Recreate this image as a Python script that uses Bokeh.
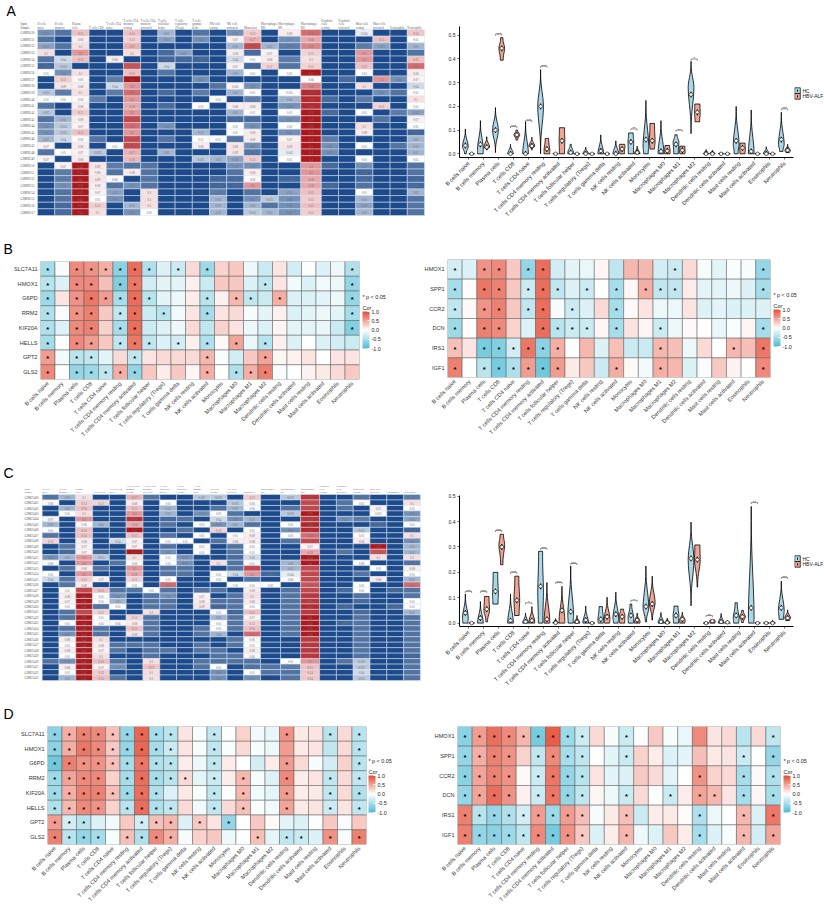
from math import pi
from bokeh.plotting import figure
from bokeh.layouts import column, row
from bokeh.models import (ColumnDataSource, FactorRange, Range1d, ColorBar, LinearColorMapper,
                          FixedTicker, PrintfTickFormatter)
from bokeh.core.properties import value
from bokeh.transform import linear_cmap
from bokeh.embed import file_html
from bokeh.resources import INLINE

CELLS = ["B cells naive", "B cells memory", "Plasma cells", "T cells CD8", "T cells CD4 naive",
         "T cells CD4 memory resting", "T cells CD4 memory activated", "T cells follicular helper",
         "T cells regulatory (Tregs)", "T cells gamma delta", "NK cells resting", "NK cells activated",
         "Monocytes", "Macrophages M0", "Macrophages M1", "Macrophages M2", "Dendritic cells resting",
         "Dendritic cells activated", "Mast cells resting", "Mast cells activated", "Eosinophils", "Neutrophils"]
HEADERS = ["B cells\nnaive", "B cells\nmemory", "Plasma\ncells", "T cells CD8", "T cells CD4\nnaive",
           "T cells CD4\nmemory\nresting", "T cells CD4\nmemory\nactivated", "T cells\nfollicular\nhelper",
           "T cells\nregulatory\n(Tregs)", "T cells\ngamma\ndelta", "NK cells\nresting", "NK cells\nactivated",
           "Monocytes", "Macrophages\nM0", "Macrophages\nM1", "Macrophages\nM2", "Dendritic\ncells\nresting",
           "Dendritic\ncells\nactivated", "Mast cells\nresting", "Mast cells\nactivated", "Eosinophils", "Neutrophils"]

# Panel A table: one row per sample, one value per cell type
SAMPLES_A = ["GSM96130", "GSM96131", "GSM96132", "GSM96133", "GSM96134", "GSM96135", "GSM96136", "GSM96137",
             "GSM96138", "GSM96139", "GSM96140", "GSM96141", "GSM96142", "GSM96143", "GSM96144", "GSM96145",
             "GSM96146", "GSM96147", "GSM96148", "GSM96149", "GSM96150", "GSM96151", "GSM96152", "GSM96153",
             "GSM96154", "GSM96155", "GSM96156", "GSM96157"]
TABLE_A = [
    [.02, .012, .15, 0, 0, .15, 0, .03, 0, .012, 0, .02, .13, 0, .08, .25, 0, 0, .045, 0, 0, .14],
    [.012, 0, .08, 0, 0, .12, 0, .025, 0, .02, 0, .07, .17, 0, .02, .18, 0, 0, 0, .15, 0, .05],
    [.025, .012, .1, 0, 0, .17, 0, 0, 0, 0, 0, .03, .3, .03, .015, .22, 0, 0, .015, .025, 0, .03],
    [.1, 0, .2, 0, 0, .1, 0, .01, .025, 0, 0, .08, .01, .07, 0, .12, 0, 0, .2, 0, 0, .012],
    [.012, .04, .15, 0, .08, 0, 0, .008, .008, .008, 0, .04, .05, .08, .015, .1, 0, 0, .2, 0, 0, .15],
    [.008, .035, 0, 0, 0, .28, 0, .04, 0, 0, 0, .07, .008, .12, .012, .12, 0, 0, .15, 0, 0, .25],
    [.05, .02, .1, 0, 0, .15, 0, .012, 0, 0, 0, .03, .05, 0, .05, .42, 0, 0, .05, 0, 0, .08],
    [0, .13, .06, 0, .015, .4, 0, 0, 0, .02, 0, 0, 0, 0, 0, .06, 0, .01, 0, .2, .02, .07],
    [0, .09, .08, 0, .04, .2, 0, 0, 0, 0, .012, .065, .02, 0, 0, .22, 0, 0, .1, 0, 0, .04],
    [.035, .015, .1, 0, .015, .25, 0, .01, 0, .015, 0, .03, .05, 0, .055, .35, 0, 0, 0, .02, .012, .05],
    [.05, .05, .06, .015, 0, .2, 0, 0, 0, 0, .05, 0, .015, 0, .03, .35, .01, 0, .015, 0, 0, .1],
    [.012, 0, .08, 0, 0, .18, 0, .01, 0, .05, 0, .08, .08, 0, .02, .35, 0, 0, 0, .12, 0, .05],
    [.035, 0, .13, 0, 0, .2, 0, 0, 0, 0, 0, .03, .05, 0, .05, .38, .01, 0, .05, 0, .015, .025],
    [.012, .03, .08, 0, 0, .3, 0, 0, 0, 0, 0, .01, .01, 0, .02, .38, 0, 0, 0, .012, 0, .07],
    [.02, .035, .07, 0, 0, .25, 0, .02, 0, 0, 0, .05, .02, 0, .05, .38, 0, 0, .1, 0, 0, .05],
    [.02, .035, .15, 0, 0, .2, 0, 0, 0, .03, 0, .05, .08, 0, .02, .4, 0, 0, .08, 0, 0, .008],
    [.03, .04, .06, .012, 0, .3, 0, .012, 0, .05, .05, .012, .08, 0, .07, .4, .015, 0, 0, 0, 0, .03],
    [.07, 0, .08, 0, .05, .3, 0, 0, 0, .08, 0, .09, .02, 0, .09, .4, .02, 0, .05, 0, .012, .03],
    [.012, .05, .07, .035, 0, .17, 0, .03, 0, 0, 0, .09, .012, 0, .045, .4, .02, 0, 0, 0, 0, .03],
    [.07, 0, .08, 0, 0, .16, 0, 0, 0, .035, .03, .025, .13, 0, .05, .4, 0, 0, .05, 0, 0, .05],
    [0, .07, .42, .09, .015, .012, .012, 0, 0, 0, 0, .02, .02, 0, 0, .2, .01, 0, .02, 0, 0, .012],
    [0, .015, .42, .08, .012, .08, .012, 0, 0, 0, 0, .012, .08, 0, 0, .2, 0, 0, .008, 0, 0, .012],
    [0, .015, .42, .09, .06, 0, .012, 0, 0, 0, .008, .01, .06, 0, .008, .18, 0, 0, .01, 0, 0, .008],
    [0, .02, .42, .08, .012, .02, .012, 0, 0, 0, .008, .008, .2, 0, 0, .18, .008, 0, .012, 0, 0, .01],
    [0, .012, .42, .07, .025, 0, .1, 0, 0, 0, .015, 0, .012, 0, .025, .15, 0, 0, .05, 0, 0, .03],
    [0, .012, .42, .05, .02, 0, .1, 0, 0, 0, .03, 0, .02, .035, .02, .13, 0, 0, .03, 0, 0, .012],
    [0, .01, .42, .13, 0, .03, .1, 0, 0, 0, .03, 0, .03, .012, .02, .15, 0, 0, .025, 0, 0, .012],
    [0, .01, .42, .1, 0, .02, .05, 0, 0, 0, .03, 0, .035, .03, .02, .13, 0, 0, .03, 0, 0, .012],
]

# Panel C table
SAMPLES_C = ["GSM25400", "GSM25401", "GSM25402", "GSM25403", "GSM25404", "GSM25405", "GSM25406", "GSM25407",
             "GSM25408", "GSM25409", "GSM25410", "GSM25411", "GSM25412", "GSM25413", "GSM25414", "GSM25415",
             "GSM25416", "GSM25417", "GSM25418", "GSM25419", "GSM25420", "GSM25421", "GSM25422", "GSM25423",
             "GSM25424", "GSM25425", "GSM25426", "GSM25427", "GSM25428", "GSM25429", "GSM25430", "GSM25431",
             "GSM25432", "GSM25433"]
TABLE_C = [
    [.012, .03, .1, 0, 0, .17, .012, 0, 0, .035, .035, 0, .13, 0, .035, .33, 0, 0, .012, 0, 0, .015],
    [.06, 0, .13, .12, 0, .08, 0, .05, 0, 0, 0, .035, .06, 0, 0, .3, 0, .012, .05, 0, 0, .1],
    [0, .03, .15, 0, 0, .15, 0, .03, 0, 0, .012, .03, .06, 0, .012, .3, 0, .012, 0, .07, 0, .05],
    [0, .05, .1, 0, 0, .2, 0, .03, 0, .02, .05, .012, 0, 0, .035, .38, 0, 0, 0, .055, 0, .02],
    [.07, 0, .2, 0, 0, .33, 0, .01, .012, 0, .04, .02, .03, 0, 0, .33, 0, .02, .015, 0, 0, .025],
    [.03, 0, .06, .03, 0, .18, 0, .012, 0, .05, .02, .03, .012, 0, .05, .36, 0, 0, 0, .008, 0, .05],
    [.05, 0, .15, 0, 0, .42, 0, 0, .012, 0, .12, 0, .05, 0, .02, .35, 0, 0, .035, 0, 0, .008],
    [.012, 0, .15, 0, 0, .15, 0, .012, 0, .05, 0, .05, .08, 0, .05, .25, 0, 0, .05, 0, 0, .1],
    [.12, 0, .08, 0, .04, .07, 0, .05, .05, 0, .012, .08, .08, 0, .012, .3, 0, 0, .08, 0, 0, .02],
    [0, .012, .07, 0, 0, .07, 0, .012, 0, .05, 0, .012, .05, 0, 0, .07, 0, 0, 0, .42, 0, .03],
    [0, .01, .07, .008, 0, .42, 0, .02, 0, .05, 0, .012, .05, 0, 0, .18, 0, .012, 0, .28, 0, .03],
    [.02, .03, .2, .035, 0, .1, 0, .05, .02, 0, 0, .01, .04, 0, 0, .42, 0, 0, 0, .1, 0, .1],
    [.06, 0, .2, 0, .012, .06, 0, .05, .02, 0, .1, .012, .05, 0, .03, .4, 0, 0, .06, 0, 0, .012],
    [0, .012, .08, .012, 0, .2, 0, .012, .012, 0, 0, .012, .3, 0, .03, .3, 0, 0, 0, .05, 0, .08],
    [.05, 0, .2, 0, 0, .18, 0, .012, .012, 0, .05, .04, .2, .008, .045, .3, 0, 0, .012, 0, 0, .05],
    [.04, .012, .13, .07, 0, .12, 0, .05, 0, 0, .05, 0, .012, 0, .06, .3, 0, 0, 0, .08, 0, .03],
    [0, .012, .08, 0, 0, .05, 0, .25, 0, 0, 0, .05, .05, .05, 0, .28, 0, 0, .05, 0, 0, .25],
    [0, .05, .3, .15, .012, .012, .05, .012, 0, .012, .012, 0, .08, 0, .012, .3, 0, .01, .05, 0, .008, .012],
    [0, .08, .42, .05, .02, 0, .012, .02, 0, .07, 0, .012, .1, 0, .012, .33, 0, 0, .012, 0, 0, .012],
    [0, .07, .42, .05, .03, 0, .012, .012, 0, .08, .012, .012, .08, 0, .012, .33, 0, 0, .01, 0, 0, .05],
    [0, .05, .42, .012, .05, 0, .012, .012, 0, .09, .008, .012, .05, 0, .012, .35, 0, .008, 0, 0, .008, .05],
    [0, .012, .3, .12, 0, 0, .1, 0, 0, 0, .05, .008, .15, 0, .012, .33, 0, 0, .01, 0, 0, .03],
    [0, .012, .38, .05, 0, .12, .012, 0, 0, 0, .03, .012, .07, 0, .012, .4, 0, 0, .012, 0, 0, .012],
    [0, .05, .42, .05, .06, .08, .012, 0, 0, 0, .05, .012, .12, 0, .012, .38, 0, .008, .012, 0, 0, .012],
    [0, .012, .42, .012, 0, .15, .012, 0, 0, .012, .05, .012, .15, 0, .012, .38, 0, 0, .012, 0, 0, .012],
    [0, .02, .42, .012, 0, .09, .012, 0, 0, .012, .03, 0, .25, 0, .012, .38, 0, 0, .012, 0, 0, .012],
    [0, .08, .42, .1, 0, 0, 0, 0, 0, 0, 0, .012, .06, 0, 0, .33, 0, 0, .012, 0, 0, .012],
    [0, .05, .42, .08, .012, .012, .012, 0, 0, .012, 0, .012, .05, 0, 0, .33, 0, 0, .012, 0, 0, .012],
    [0, .08, .42, .07, .012, 0, .012, .012, 0, .012, .012, 0, .08, 0, 0, .33, 0, 0, .012, 0, 0, .012],
    [0, .05, .42, .1, 0, 0, .012, 0, 0, 0, .012, .012, .06, 0, 0, .33, 0, 0, .012, 0, 0, .008],
    [.012, .02, .42, .15, .012, 0, .1, 0, 0, .012, .012, .012, .012, 0, .05, .2, 0, .012, .035, 0, 0, .012],
    [0, .08, .42, .07, .02, 0, .15, 0, 0, .012, .05, 0, .012, .012, .015, .15, 0, 0, .035, 0, 0, .012],
    [0, .05, .42, .13, 0, 0, .1, 0, 0, 0, .02, 0, .05, .012, .012, .14, 0, 0, .04, 0, 0, .012],
    [0, .03, .42, .15, .012, 0, .1, 0, 0, 0, .02, 0, .02, 0, .012, .14, 0, 0, .035, 0, 0, .012],
]

# Violins: (low, high, peak, median, width at low end, width at high end)
VIOLIN_A_HC = [(0, .105, .03, .035, .3, 0), (0, .14, .02, .04, 1, 0), (.005, .195, .1, .1, 0, 0), (0, .04, 0, 0, 1, 0),
               (0, .135, 0, 0, 1, 0), (0, .355, .2, .2, 0, 0), (0, .002, 0, 0, 1, 0), (0, .04, .005, .005, 1, .2),
               (0, .028, 0, 0, 1, 0), (0, .08, 0, .012, 1, 0), (0, .055, 0, 0, 1, 0), (0, .088, .05, .05, .9, .8),
               (0, .225, .03, .06, .8, 0), (0, .14, .005, .01, 1, 0), (0, .08, .05, .04, .8, .4), (.085, .39, .28, .25, 0, 0),
               (0, .018, 0, 0, 1, 0), (0, .006, 0, 0, 1, 0), (0, .2, .04, .055, .7, 0), (0, .185, 0, .01, 1, 0),
               (0, .03, 0, 0, 1, 0), (.01, .175, .04, .06, .6, 0)]
VIOLIN_A_ALF = [(0, .002, 0, 0, 1, 0), (.015, .072, .028, .028, 0, 0), (.395, .49, .445, .445, .5, .4), (.058, .1, .08, .08, .3, .3),
                (.015, .07, .033, .033, 0, 0), (0, .065, .015, .02, 1, .6), (0, .11, .055, .055, .9, .9), (0, .002, 0, 0, 1, 0),
                (0, .002, 0, 0, 1, 0), (0, .002, 0, 0, 1, 0), (0, .04, .035, .02, .8, .9), (0, .032, 0, .005, 1, 0),
                (.02, .128, .05, .055, .8, .8), (0, .035, .012, .012, 1, .8), (0, .032, .005, .015, .9, .9), (.135, .21, .17, .175, .8, .9),
                (0, .015, 0, 0, 1, 0), (0, .002, 0, 0, 1, 0), (0, .045, .02, .025, .9, .9), (0, .002, 0, 0, 1, 0),
                (0, .002, 0, 0, 1, 0), (.005, .04, .012, .015, .6, 0)]
VIOLIN_C_HC = [(0, .115, .02, .04, .9, 0), (0, .085, 0, .02, 1, 0), (.075, .2, .11, .125, .9, .8), (0, .115, 0, .01, 1, 0),
               (0, .04, 0, .005, 1, 0), (0, .283, .12, .145, .8, .7), (0, .018, 0, .001, 1, 0), (0, .225, .03, .045, .9, 0),
               (0, .067, 0, .012, 1, 0), (0, .065, .01, .015, .9, .6), (0, .122, .02, .035, .8, 0), (0, .075, .02, .03, .9, .3),
               (.005, .225, .06, .065, .2, 0), (0, .042, 0, .005, 1, 0), (0, .067, .03, .03, .9, .7), (.068, .398, .25, .255, 0, 0),
               (0, .003, 0, 0, 1, 0), (0, .038, 0, .005, 1, 0), (0, .08, .02, .03, .9, .4), (0, .46, .02, .06, .9, 0),
               (0, .003, 0, 0, 1, 0), (.015, .165, .05, .06, .8, 0)]
VIOLIN_C_ALF = [(0, .002, 0, 0, 1, 0), (.005, .105, .05, .055, .3, .8), (.23, .35, .31, .3, .4, .6), (.03, .185, .09, .09, .8, .7),
                (0, .065, .005, .01, 1, 0), (0, .16, .005, .015, 1, 0), (0, .145, .01, .05, 1, 0), (0, .03, 0, .005, 1, 0),
                (0, .002, 0, 0, 1, 0), (0, .102, .015, .025, .9, 0), (0, .055, .03, .025, .9, .5), (0, .04, .005, .012, 1, 0),
                (.012, .185, .08, .075, .1, 0), (0, .02, 0, .002, 1, 0), (0, .043, .01, .015, .9, 0), (.142, .308, .25, .25, .1, .9),
                (0, .012, .005, .008, .9, .9), (0, .01, 0, .003, 1, 0), (.002, .05, .025, .025, .3, .3), (0, .002, 0, 0, 1, 0),
                (0, .01, 0, 0, 1, 0), (.01, .052, .02, .02, .7, 0)]
# Significance brackets: cell type index -> (bracket height, stars)
BRACKETS_A = {2: (.505, "***"), 3: (.115, "***"), 4: (.14, "***"), 5: (.37, "***"), 11: (.105, "**"),
              14: (.1, "**"), 15: (.4, "*"), 21: (.19, "***")}
BRACKETS_C = {0: (.125, "***"), 1: (.125, "***"), 2: (.365, "***"), 3: (.2, "***"), 4: (.08, "*"), 5: (.295, "***"),
              6: (.16, "***"), 7: (.235, "***"), 11: (.09, "*"), 16: (.03, "**"), 19: (.475, "**"), 21: (.18, "***")}

# Correlation heatmaps
GENES_1 = ["SLC7A11", "HMOX1", "G6PD", "RRM2", "KIF20A", "HELLS", "GPT2", "GLS2"]
GENES_2 = ["HMOX1", "SPP1", "CCR2", "DCN", "IRS1", "IGF1"]
COR_BL = [
    [-.5, -.05, .65, .6, .45, -.65, .8, -.45, -.2, -.3, .2, -.55, .25, .3, -.1, -.3, .15, -.25, -.02, -.2, -.1, -.45],
    [-.4, -.2, .65, .65, .35, -.7, .75, -.25, -.15, -.15, .08, -.3, .3, .3, -.2, -.35, .15, -.08, -.2, -.08, -.1, -.6],
    [-.55, .15, .6, .75, .55, -.5, .8, -.4, -.15, -.1, .1, -.4, .08, .4, -.35, -.3, .45, -.2, -.2, -.15, -.1, -.6],
    [-.45, -.03, .6, .7, .3, -.35, .8, -.3, -.4, -.08, .15, -.5, .15, .2, -.05, -.15, .08, -.2, -.15, -.1, -.15, -.5],
    [-.45, -.2, .65, .7, .25, -.5, .8, -.3, -.2, -.1, .2, -.35, .25, .15, -.1, -.2, .05, -.15, -.15, -.12, -.3, -.7],
    [-.5, 0, .65, .55, .3, -.35, .75, -.35, -.2, -.25, .08, -.45, .03, .5, -.12, -.4, .08, -.2, 0, -.2, -.25, -.3],
    [.55, -.08, -.4, -.35, -.15, .2, -.35, .15, .2, .2, .2, .4, -.03, -.25, .3, .5, .05, .07, .15, 0, .15, .15],
    [.65, 0, -.6, -.55, -.35, .45, -.6, .3, .1, .3, .05, .45, 0, -.45, .45, .7, -.05, 0, .07, .12, .2, .3],
]
SIG_BL = [[0, 2, 3, 4, 5, 6, 7, 9, 11, 21], [0, 2, 3, 5, 6, 15, 21], [0, 2, 3, 4, 5, 6, 7, 11, 13, 14, 16, 21],
          [0, 2, 3, 5, 6, 8, 11, 21], [0, 2, 3, 5, 6, 21], [0, 2, 3, 5, 6, 7, 9, 11, 13, 15],
          [0, 2, 3, 6, 11, 15], [0, 2, 3, 4, 5, 6, 11, 13, 14, 15]]
COR_BR = [
    [-.25, -.2, .6, .65, .3, -.6, .8, -.25, -.15, -.12, .05, -.35, .4, .4, -.25, -.3, .2, -.05, -.15, -.03, -.05, -.6],
    [-.5, .01, .75, .7, .3, -.3, .8, -.35, -.2, -.3, 0, -.5, .05, .45, -.35, -.35, .1, -.15, -.15, -.1, -.2, -.5],
    [-.35, .03, .6, .7, .3, -.35, .8, -.05, -.3, -.2, .2, -.5, .03, .15, -.1, -.1, .15, -.2, -.15, -.2, -.2, -.2],
    [-.55, .01, .7, .65, .25, -.2, .8, -.4, -.3, -.3, .05, -.5, .15, .05, -.3, -.1, .03, 0, -.12, -.03, .05, -.5],
    [.35, .15, -.75, -.7, -.25, .75, -.65, .45, 0, .4, -.2, .35, -.3, -.3, .4, .35, -.1, .2, 0, .4, .35, .75],
    [.7, -.02, -.4, -.75, -.45, .55, -.8, .55, .12, .3, -.3, .45, .03, -.08, .45, .4, -.2, -.02, .3, .07, 0, .65],
]
SIG_BR = [[0, 2, 3, 5, 6, 15, 21], [0, 2, 3, 5, 6, 7, 9, 11, 13, 14, 15, 21], [0, 2, 3, 5, 6, 8, 11],
          [0, 2, 3, 6, 7, 8, 9, 11, 14, 21], [0, 2, 3, 4, 5, 6, 7, 14, 19, 21], [0, 2, 3, 4, 5, 6, 7, 11, 14, 21]]
COR_DL = [
    [-.65, .45, .7, .65, .35, -.6, .85, -.5, -.4, .15, -.05, -.35, -.02, .25, -.08, -.12, .6, .12, .15, -.4, .2, -.4],
    [-.65, .45, .75, .65, .3, -.6, .85, -.5, -.3, .15, -.05, -.35, -.03, .2, -.05, -.1, .55, .12, .15, -.35, .2, -.4],
    [-.8, .7, .6, .6, .35, -.5, .75, -.45, -.4, .1, -.1, -.35, .1, 0, -.25, .1, .55, .2, -.05, -.25, .25, -.4],
    [-.55, .5, .65, .65, .25, -.5, .8, -.5, -.4, .2, -.15, -.3, .1, .4, -.05, -.2, .65, .1, .15, -.35, .2, -.35],
    [-.55, .45, .7, .7, .35, -.55, .8, -.45, -.2, .12, -.05, -.35, -.02, .4, -.08, -.15, .55, .1, .12, -.35, .2, -.45],
    [-.45, .4, .65, .6, .25, -.4, .8, -.45, -.35, .2, -.08, -.35, .2, .35, -.03, -.08, .5, .12, .15, -.3, .15, -.35],
    [.55, -.25, -.4, -.2, -.08, .3, -.25, .35, .4, -.2, .3, .15, -.6, 0, .3, .03, -.15, -.2, -.02, .3, -.03, .3],
    [.7, -.4, -.6, -.5, -.05, .35, -.45, .65, .45, -.05, .25, .3, -.1, 0, .35, -.15, -.35, -.3, -.2, .6, -.05, .7],
]
SIG_DL = [[0, 1, 2, 3, 4, 5, 6, 7, 8, 11, 16, 19, 21], [0, 1, 2, 3, 4, 5, 6, 7, 8, 11, 21],
          [0, 1, 2, 3, 4, 5, 6, 7, 8, 11, 16, 21], [0, 1, 2, 3, 5, 6, 7, 8, 9, 11, 13, 16, 19, 21],
          [0, 1, 2, 3, 4, 5, 6, 7, 11, 13, 16, 19, 21], [0, 1, 2, 3, 5, 6, 7, 8, 11, 13, 16, 19, 21],
          [0, 1, 2, 6, 7, 8, 10, 12], [0, 1, 2, 3, 5, 6, 7, 8, 14, 16, 17, 19, 21]]
COR_DR = [
    [-.65, .55, .8, .65, .4, -.75, .9, -.55, -.3, .2, -.05, -.3, -.02, .3, -.05, -.12, .65, .15, .2, -.4, .2, -.35],
    [-.6, .45, .7, .6, .25, -.35, .65, -.5, -.35, 0, -.15, -.3, .25, .1, -.2, -.15, .35, .12, .15, -.3, 0, -.6],
    [-.65, .5, .7, .6, .03, -.3, .75, -.6, -.4, .15, -.15, -.2, .3, .2, -.15, 0, .6, .25, .2, -.5, .03, -.45],
    [-.6, .5, .8, .6, .08, -.3, .75, -.6, -.35, .05, -.1, -.3, .2, 0, -.3, .1, .5, .4, .15, -.5, .05, -.5],
    [.7, -.4, -.6, -.45, -.25, .55, -.55, .55, .35, -.05, .12, .35, -.3, .1, .12, .02, -.45, -.1, 0, .4, -.2, .75],
    [.7, -.6, -.65, -.55, -.35, .65, -.75, .6, .3, -.2, .1, .4, -.1, -.2, .3, .1, -.5, -.2, -.05, .4, -.25, .5],
]
SIG_DR = [[0, 1, 2, 3, 4, 5, 6, 7, 8, 11, 21], [0, 1, 2, 3, 5, 6, 7, 8, 11, 19, 21], [0, 1, 2, 3, 5, 6, 7, 8, 16, 19, 21],
          [0, 1, 2, 3, 5, 6, 7, 8, 11, 14, 16, 17, 19, 21], [0, 1, 2, 3, 4, 5, 6, 7, 8, 11, 16, 19, 21],
          [0, 1, 2, 3, 4, 5, 6, 7, 8, 11, 16, 19, 21]]

FONT = "Liberation Sans"
C_HC, C_ALF = "#A9D8E8", "#EFA591"


def lerp_palette(stops, n):
    out = []
    for k in range(n):
        t = k / (n - 1) * (len(stops) - 1)
        i = min(int(t), len(stops) - 2)
        f = t - i
        a, b = stops[i], stops[i + 1]
        out.append("#%02x%02x%02x" % tuple(round(a[c] + (b[c] - a[c]) * f) for c in range(3)))
    return out


COR_PALETTE = lerp_palette([(77, 187, 213), (255, 255, 255), (230, 75, 53)], 255)
# table scale: dark blue at 0, white at 0.05, dark red from 0.38
TABLE_LOW, TABLE_HIGH = 0.0, 0.38
TABLE_PALETTE = (lerp_palette([(28, 74, 139), (255, 255, 255)], 40)
                 + lerp_palette([(255, 255, 255), (238, 185, 187), (205, 90, 95), (172, 24, 28)], 264)[1:])


def bare(p):
    p.xgrid.visible = False
    p.ygrid.visible = False
    p.outline_line_color = None
    p.background_fill_color = None
    p.border_fill_color = None


def pixel_fig(left, right, ytop, ybot):
    """A figure without axes whose ranges run in page pixels, for page furniture."""
    p = figure(width=right - left, height=ybot - ytop, x_range=Range1d(left, right), y_range=Range1d(ybot, ytop),
               x_axis_location=None, y_axis_location=None, toolbar_location=None, output_backend="svg", min_border=0,
               frame_align=False)
    bare(p)
    return p


def put_text(p, text, x, y, size, color="#222222", font=FONT, baseline="middle"):
    p.text(x=[x], y=[y], text=[text], text_font=value(font), text_font_size=size, text_color=color,
           text_baseline=baseline, text_line_height=1.0)


def table_fig(samples, values, col_w, x0, top, row_h, left, right, ytop, ybot, hdr_font, name_x, mark):
    p = pixel_fig(left, right, ytop, ybot)
    edges = [x0]
    for w in col_w:
        edges.append(edges[-1] + w)
    cx, cy, cw, val, txt, tx, ty = [], [], [], [], [], [], []
    for r, vals in enumerate(values):
        for c, v in enumerate(vals):
            cx.append((edges[c] + edges[c + 1]) / 2)
            cy.append(top + (r + .5) * row_h)
            cw.append(col_w[c])
            val.append(v)
            if v > 0:
                txt.append(f"{v:.3f}".rstrip("0"))
                tx.append(cx[-1])
                ty.append(cy[-1])
    p.rect(x="x", y="y", width="w", height=row_h,
           source=ColumnDataSource(dict(x=cx, y=cy, w=cw, v=val)),
           fill_color=linear_cmap("v", TABLE_PALETTE, TABLE_LOW, TABLE_HIGH), line_color="#dbe4f0", line_width=0.5)
    p.text(x=tx, y=ty, text=txt, text_font=value("Liberation Serif"), text_font_size="3px", text_color="#6f6f6f",
           text_align="center", text_baseline="middle")
    p.text(x=[name_x] * len(samples), y=[top + (r + .5) * row_h for r in range(len(samples))], text=samples,
           text_font=value("Liberation Serif"), text_font_size="3px", text_color="#555555", text_baseline="middle")
    p.text(x=edges[:-1], y=[top - .5] * len(HEADERS), text=HEADERS, text_font=value("Liberation Serif"),
           text_font_size=hdr_font, text_color="#666666", text_baseline="bottom", text_line_height=1.0)
    put_text(p, "Input\nSample", name_x, top - .5, hdr_font, "#555555", "Liberation Serif", "bottom")
    put_text(p, mark[0], mark[1], mark[2], "14px", "#000000")
    return p


def shape(lo, hi, peak, lo_w, hi_w):
    """Outline of one violin: relative half-width along its height."""
    ys, ws = [], []
    steps = 8
    if peak > lo:
        for k in range(steps, 0, -1):
            s = k / steps
            f = (1 - s) ** 2 * (1 + 2 * s)
            ys.append(peak - (peak - lo) * s)
            ws.append(lo_w + (1 - lo_w) * f ** 1.5)
    for k in range(steps + 1):
        s = k / steps
        f = (1 - s) ** 2 * (1 + 2 * s)
        ys.append(peak + (hi - peak) * s)
        ws.append(hi_w + (1 - hi_w) * f ** 1.5)
    return ys, ws


def violin_fig(hc, alf, brackets, ymin, ymax, left, fl, fr, ft, fb, ytop, ybot):
    p = figure(frame_width=fr - fl, frame_height=fb - ft,
               x_range=FactorRange(factors=CELLS, range_padding=0.1, range_padding_units="absolute", factor_padding=0),
               y_range=Range1d(ymin, ymax), toolbar_location=None, output_backend="svg", frame_align=False,
               min_border_left=fl - left, min_border_right=1, min_border_top=ft - ytop, min_border_bottom=ybot - fb)
    bare(p)
    DODGE, HALF = .21, .19
    box = (ymax - ymin) * .022
    for series, off, col in ((hc, -DODGE, C_HC), (alf, DODGE, C_ALF)):
        xs, ys, mx, my = [], [], [], []
        for i, (lo, hi, peak, med, lw, hw) in enumerate(series):
            yy, ww = shape(lo, hi, peak, lw, hw)
            c = i + .5 + off
            xs.append([c - w * HALF for w in ww] + [c + w * HALF for w in ww[::-1]])
            ys.append(yy + yy[::-1])
            mx.append(c)
            my.append(med)
        p.patches(xs=xs, ys=ys, fill_color=col, line_color="#000000", line_width=0.8)
        p.segment(x0=mx, x1=mx, y0=[max(m - box, s[0]) for m, s in zip(my, series)],
                  y1=[min(m + box, s[1]) for m, s in zip(my, series)], line_color="#000000", line_width=1.1)
        p.scatter(x=mx, y=my, size=3.6, marker="circle", fill_color="#ffffff", line_color="#000000", line_width=0.6)
    bx, by, tx, ty, tt = [], [], [], [], []
    drop = (ymax - ymin) * .012
    for i, (h, stars) in brackets.items():
        a, b = i + .5 - DODGE, i + .5 + DODGE
        bx.append([a, a, b, b])
        by.append([h - drop, h, h, h - drop])
        tx.append(i + .5)
        ty.append(h)
        tt.append(stars)
    p.multi_line(xs=bx, ys=by, line_color="#222222", line_width=0.5)
    p.text(x=tx, y=ty, text=tt, text_font=value(FONT), text_font_size="4px", text_color="#222222",
           text_align="center", text_baseline="middle")
    ax = p.xaxis[0]
    ax.major_label_orientation = pi / 4
    ax.major_label_text_font = FONT
    ax.major_label_text_font_size = "5.6px"
    ax.major_label_text_color = "#222222"
    ax.major_label_standoff = 3
    ax.major_tick_in = 0
    ax.major_tick_out = 2
    ax.major_tick_line_width = 0.6
    ax.axis_line_width = 1
    ax.axis_line_color = "#000000"
    ay = p.yaxis[0]
    ay.ticker = FixedTicker(ticks=[0, .1, .2, .3, .4, .5])
    ay.formatter = PrintfTickFormatter(format="%.1f")
    ay.major_label_text_font = FONT
    ay.major_label_text_font_size = "5px"
    ay.major_label_text_color = "#222222"
    ay.major_label_standoff = 2
    ay.major_tick_in = 0
    ay.major_tick_out = 2
    ay.major_tick_line_width = 0.6
    ay.minor_tick_line_color = None
    ay.axis_line_width = 1
    ay.axis_line_color = "#000000"
    return p


def legend_fig(left, right, ytop, ybot, center):
    p = pixel_fig(left, right, ytop, ybot)
    kx, kw, kh = left + 3, 5.6, 5.7
    p.rect(x=[kx, kx], y=[center - kh / 2, center + kh / 2], width=kw, height=kh, fill_color=[C_HC, C_ALF],
           line_color="#000000", line_width=0.7)
    p.segment(x0=[kx, kx], x1=[kx, kx], y0=[center - kh / 2 - 1, center + kh / 2 - 1],
              y1=[center - kh / 2 + 1, center + kh / 2 + 1], line_color="#000000", line_width=1)
    put_text(p, "HC", kx + 5, center - kh / 2, "5px")
    put_text(p, "HBV-ALF", kx + 5, center + kh / 2, "5px")
    return p


def heat_fig(genes, cor, sig, left, fl, fr, ft, fb, ytop, ybot):
    p = figure(frame_width=fr - fl, frame_height=fb - ft, x_range=FactorRange(factors=CELLS, factor_padding=0),
               y_range=FactorRange(factors=genes[::-1], factor_padding=0), toolbar_location=None, output_backend="svg",
               frame_align=False,
               min_border_left=fl - left, min_border_right=1, min_border_top=ft - ytop, min_border_bottom=ybot - fb)
    bare(p)
    xs, ys, vs, sx, sy = [], [], [], [], []
    for r, g in enumerate(genes):
        for c, cell in enumerate(CELLS):
            xs.append(cell)
            ys.append(g)
            vs.append(cor[r][c])
        for c in sig[r]:
            sx.append(CELLS[c])
            sy.append(g)
    p.rect(x="x", y="y", width=1, height=1, source=ColumnDataSource(dict(x=xs, y=ys, v=vs)),
           fill_color={"field": "v", "transform": LinearColorMapper(palette=COR_PALETTE, low=-1, high=1)},
           line_color="#555555", line_width=0.6, line_alpha=0.8)
    p.text(x=sx, y=sy, text=["*"] * len(sx), text_font=value(FONT), text_font_size="7.5px", text_font_style="bold",
           text_color="#000000", text_align="center", text_baseline="middle", y_offset=1.5)
    for ax in (p.xaxis[0], p.yaxis[0]):
        ax.major_label_text_font = FONT
        ax.major_label_text_color = "#333333"
        ax.major_tick_line_color = None
        ax.major_tick_in = 0
        ax.major_tick_out = 0
        ax.axis_line_color = None
        ax.major_label_standoff = 3
    p.xaxis[0].major_label_orientation = pi / 4
    p.xaxis[0].major_label_text_font_size = "5.6px"
    p.yaxis[0].major_label_text_font_size = "5.6px"
    return p


def note_fig(left, right, ytop, ybot, note_x, note_y, bar_top):
    p = pixel_fig(left, right, ytop, ybot)
    put_text(p, "* p < 0.05", note_x, note_y, "5.4px")
    put_text(p, "Cor", note_x, bar_top - 4, "5.4px")
    mapper = LinearColorMapper(palette=COR_PALETTE, low=-1, high=1)
    cb = ColorBar(color_mapper=mapper, location=(note_x - left, ybot - bar_top - 37), width=7, height=37, padding=0, margin=0,
                  ticker=FixedTicker(ticks=[-1, -.5, 0, .5, 1]), formatter=PrintfTickFormatter(format="%.1f"),
                  major_label_text_font=FONT, major_label_text_font_size="5.4px",
                  major_label_text_color="#222222", label_standoff=2, major_tick_line_color="#ffffff",
                  major_tick_in=2, bar_line_color=None, background_fill_alpha=0, border_line_color=None)
    p.add_layout(cb)
    return p


def letter_strip(text, x, y, ytop, ybot):
    p = pixel_fig(0, 40, ytop, ybot)
    put_text(p, text, x, y, "14px", "#000000")
    return p


COL_W_A = [17.2] * 14 + [22.5, 20.5] + [17.2] * 6
COL_W_C = [16.8] * 13 + [20, 20, 19] + [16.8] * 6

R1, R2, R2B, R3, R4, R4B, R5 = 0, 228, 258, 460, 700, 722, 904
MID, RIGHT = 430, 824

row_a = row(table_fig(SAMPLES_A, TABLE_A, COL_W_A, 37, 29, (215 - 29) / 28, 0, MID, R1, R2, "3px", 20, ("A", 6, 10.5)),
            violin_fig(VIOLIN_A_HC, VIOLIN_A_ALF, BRACKETS_A, -.0156, .537, MID, 459, 793, 26, 157, R1, R2),
            legend_fig(794, RIGHT, R1, R2, 93))
row_b = row(heat_fig(GENES_1, COR_BL, SIG_BL, 0, 40, 359, 261, 379, R2B, R3),
            note_fig(360, 410, R2B, R3, 362, 296, 311),
            heat_fig(GENES_2, COR_BR, SIG_BR, 410, 447, 770, 259, 377, R2B, R3),
            note_fig(771, RIGHT, R2B, R3, 773, 294, 309))
row_c = row(table_fig(SAMPLES_C, TABLE_C, COL_W_C, 41.7, 494, (680 - 494) / 34, 0, MID, R3, R4, "2.6px", 24, ("C", 3, 472)),
            violin_fig(VIOLIN_C_HC, VIOLIN_C_ALF, BRACKETS_C, -.0134, .503, MID, 459, 793, 495, 626, R3, R4),
            legend_fig(794, RIGHT, R3, R4, 561))
row_d = row(heat_fig(GENES_1, COR_DL, SIG_DL, 0, 47, 366, 726, 844, R4B, R5),
            note_fig(367, 410, R4B, R5, 368, 760, 775),
            heat_fig(GENES_2, COR_DR, SIG_DR, 410, 457, 780, 726, 844, R4B, R5),
            note_fig(781, RIGHT, R4B, R5, 783, 760, 775))

page = column(row_a, letter_strip("B", 3, 248.5, R2, R2B), row_b, row_c, letter_strip("D", 3, 713, R4, R4B), row_d)
open("out.html", "w").write(file_html(page, INLINE))
